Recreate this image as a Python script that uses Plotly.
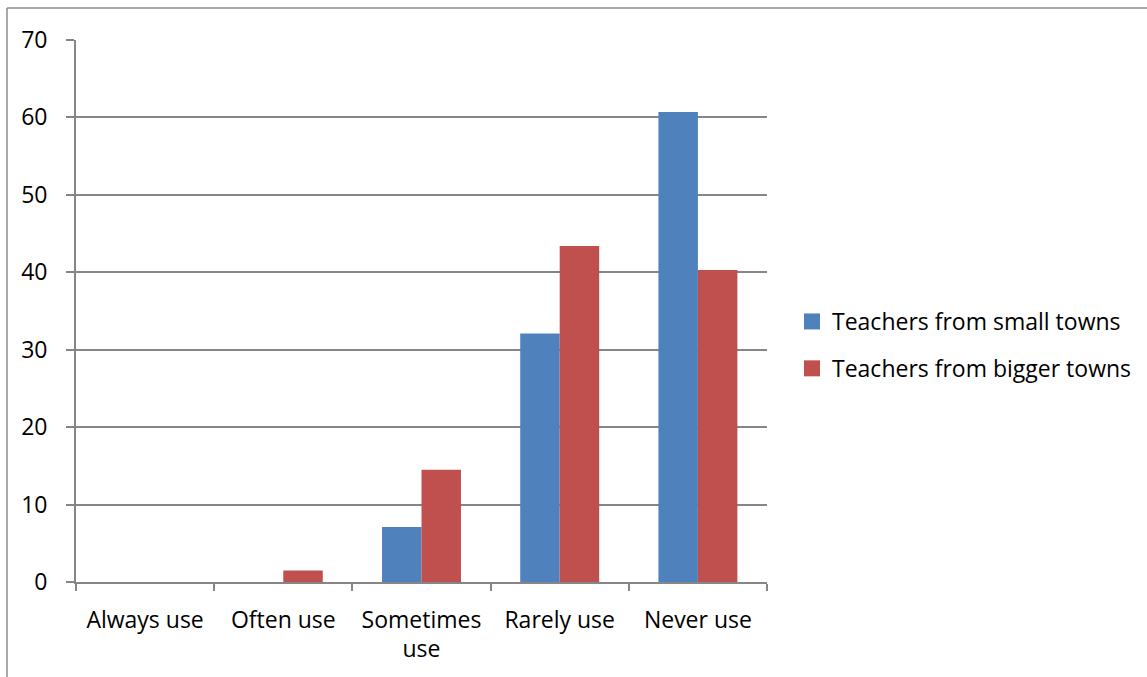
import plotly.graph_objects as go

categories = ["Always use", "Often use", "Sometimes<br>use", "Rarely use", "Never use"]
small_towns = [0, 0, 7.1, 32.1, 60.7]
bigger_towns = [0, 1.5, 14.5, 43.4, 40.3]
series_names = ["Teachers from small towns", "Teachers from bigger towns"]
series_colors = ["#4F81BD", "#C0504D"]
y_ticks = [0, 10, 20, 30, 40, 50, 60, 70]

W, H = 1147, 677
L, R, T, B = 76, 380, 40, 95
pw, ph = W - L - R, H - T - B

FONT = "Open Sans"
FS = 23
GRAY = "#868686"

fig = go.Figure()
for vals, name, col in zip([small_towns, bigger_towns], series_names, series_colors):
    fig.add_trace(go.Bar(x=categories, y=vals, name=name,
                         marker=dict(color=col, line=dict(width=0)),
                         showlegend=False))
# legend entries with larger square swatches
for i, (name, col) in enumerate(zip(series_names, series_colors)):
    fig.add_trace(go.Scatter(x=[None], y=[None], mode="markers", name=name,
                             marker=dict(symbol="square", size=16, color=col),
                             legendgroup=f"g{i}", showlegend=True))

def px_x(p):
    return (p - L) / pw

def px_y(p):
    return (H - B - p) / ph

fig.update_layout(
    width=W, height=H,
    margin=dict(l=L, r=R, t=T, b=B, autoexpand=False),
    paper_bgcolor="white", plot_bgcolor="white",
    font=dict(family=FONT, size=FS, color="#000000"),
    barmode="group", bargap=0.4286, bargroupgap=0,
    showlegend=True,
    legend=dict(x=px_x(792), y=px_y(300), xanchor="left", yanchor="top",
                traceorder="grouped", tracegroupgap=14,
                font=dict(family=FONT, size=FS), bgcolor="rgba(0,0,0,0)"),
    xaxis=dict(showline=True, linecolor=GRAY, linewidth=1.8,
               ticks="outside", tickson="boundaries", ticklen=7, tickcolor=GRAY, tickwidth=1.8,
               showgrid=False, ticklabelstandoff=16, tickfont=dict(family=FONT, size=FS)),
    yaxis=dict(range=[0, 70], tickvals=y_ticks, showline=True, linecolor=GRAY, linewidth=1.8,
               ticks="outside", ticklen=8, tickcolor=GRAY, tickwidth=1.8,
               showgrid=True, gridcolor=GRAY, gridwidth=1.8, zeroline=False,
               ticklabelstandoff=14, tickfont=dict(family=FONT, size=FS)),
    shapes=[
        dict(type="line", xref="paper", yref="paper", x0=px_x(7), x1=px_x(W + 5),
             y0=px_y(8), y1=px_y(8), line=dict(color="#8C8C8C", width=1.5)),
        dict(type="line", xref="paper", yref="paper", x0=px_x(7), x1=px_x(7),
             y0=px_y(8), y1=px_y(H + 5), line=dict(color="#8C8C8C", width=1.5)),
    ],
)

fig.write_html("out.html", config={"displayModeBar": False},
               post_script="document.body.style.margin='0';document.body.style.padding='0';")
